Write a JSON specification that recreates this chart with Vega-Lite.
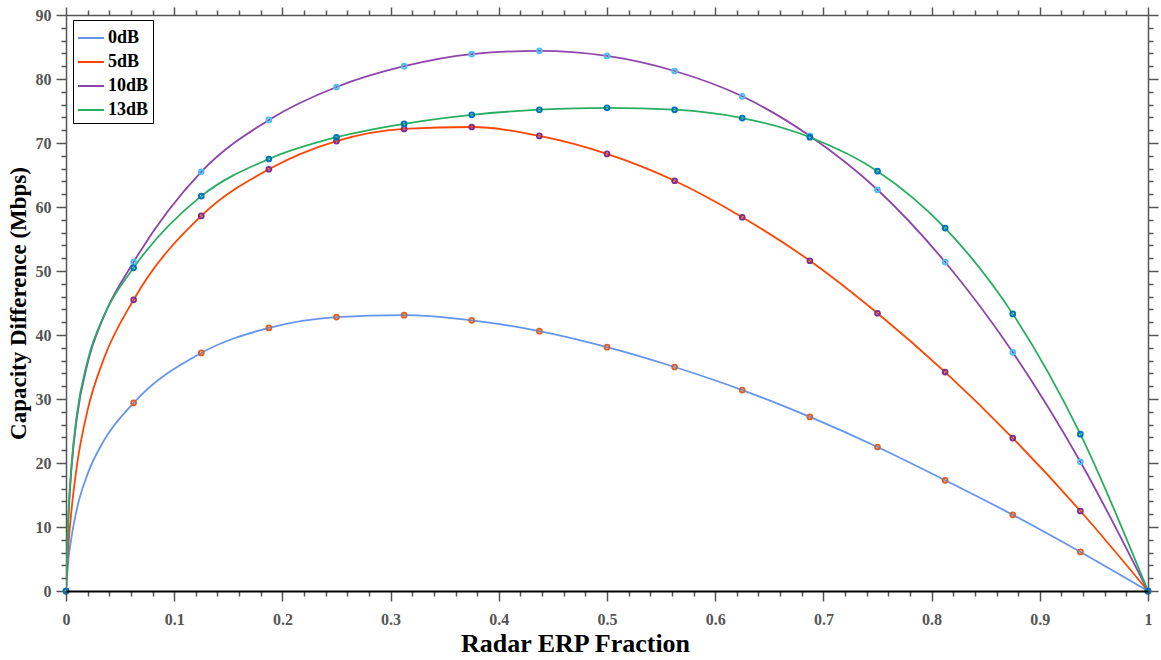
{
  "$schema": "https://vega.github.io/schema/vega-lite/v6.json",
  "width": 1082,
  "height": 576,
  "autosize": {"type": "none"},
  "padding": {"left": 66, "top": 15, "right": 13, "bottom": 69},
  "background": "white",
  "config": {"view": {"stroke": null}, "font": "Liberation Serif"},
  "datasets": {
    "curve": [
      {"f": 0, "c": 0, "s": "0dB"},
      {"f": 0.002, "c": 4.5, "s": "0dB"},
      {"f": 0.005, "c": 8.3, "s": "0dB"},
      {"f": 0.01, "c": 12.8, "s": "0dB"},
      {"f": 0.02, "c": 18.3, "s": "0dB"},
      {"f": 0.035, "c": 23.5, "s": "0dB"},
      {"f": 0.0625, "c": 29.4, "s": "0dB"},
      {"f": 0.125, "c": 37.2, "s": "0dB"},
      {"f": 0.1875, "c": 41.1, "s": "0dB"},
      {"f": 0.25, "c": 42.8, "s": "0dB"},
      {"f": 0.3125, "c": 43.1, "s": "0dB"},
      {"f": 0.375, "c": 42.3, "s": "0dB"},
      {"f": 0.4375, "c": 40.6, "s": "0dB"},
      {"f": 0.5, "c": 38.1, "s": "0dB"},
      {"f": 0.5625, "c": 35.0, "s": "0dB"},
      {"f": 0.625, "c": 31.4, "s": "0dB"},
      {"f": 0.6875, "c": 27.2, "s": "0dB"},
      {"f": 0.75, "c": 22.5, "s": "0dB"},
      {"f": 0.8125, "c": 17.3, "s": "0dB"},
      {"f": 0.875, "c": 11.9, "s": "0dB"},
      {"f": 0.9375, "c": 6.1, "s": "0dB"},
      {"f": 1, "c": 0, "s": "0dB"},
      {"f": 0, "c": 0, "s": "5dB"},
      {"f": 0.002, "c": 6.5, "s": "5dB"},
      {"f": 0.005, "c": 12.5, "s": "5dB"},
      {"f": 0.01, "c": 19.5, "s": "5dB"},
      {"f": 0.02, "c": 28.3, "s": "5dB"},
      {"f": 0.035, "c": 36.3, "s": "5dB"},
      {"f": 0.0625, "c": 45.5, "s": "5dB"},
      {"f": 0.125, "c": 58.6, "s": "5dB"},
      {"f": 0.1875, "c": 65.9, "s": "5dB"},
      {"f": 0.25, "c": 70.3, "s": "5dB"},
      {"f": 0.3125, "c": 72.2, "s": "5dB"},
      {"f": 0.375, "c": 72.5, "s": "5dB"},
      {"f": 0.4375, "c": 71.1, "s": "5dB"},
      {"f": 0.5, "c": 68.3, "s": "5dB"},
      {"f": 0.5625, "c": 64.1, "s": "5dB"},
      {"f": 0.625, "c": 58.4, "s": "5dB"},
      {"f": 0.6875, "c": 51.6, "s": "5dB"},
      {"f": 0.75, "c": 43.4, "s": "5dB"},
      {"f": 0.8125, "c": 34.2, "s": "5dB"},
      {"f": 0.875, "c": 23.9, "s": "5dB"},
      {"f": 0.9375, "c": 12.5, "s": "5dB"},
      {"f": 1, "c": 0, "s": "5dB"},
      {"f": 0, "c": 0, "s": "10dB"},
      {"f": 0.002, "c": 10.5, "s": "10dB"},
      {"f": 0.005, "c": 19.0, "s": "10dB"},
      {"f": 0.01, "c": 27.0, "s": "10dB"},
      {"f": 0.02, "c": 35.6, "s": "10dB"},
      {"f": 0.035, "c": 42.9, "s": "10dB"},
      {"f": 0.0625, "c": 51.4, "s": "10dB"},
      {"f": 0.125, "c": 65.5, "s": "10dB"},
      {"f": 0.1875, "c": 73.6, "s": "10dB"},
      {"f": 0.25, "c": 78.75, "s": "10dB"},
      {"f": 0.3125, "c": 82.0, "s": "10dB"},
      {"f": 0.375, "c": 83.9, "s": "10dB"},
      {"f": 0.4375, "c": 84.4, "s": "10dB"},
      {"f": 0.5, "c": 83.6, "s": "10dB"},
      {"f": 0.5625, "c": 81.25, "s": "10dB"},
      {"f": 0.625, "c": 77.3, "s": "10dB"},
      {"f": 0.6875, "c": 71.1, "s": "10dB"},
      {"f": 0.75, "c": 62.7, "s": "10dB"},
      {"f": 0.8125, "c": 51.4, "s": "10dB"},
      {"f": 0.875, "c": 37.3, "s": "10dB"},
      {"f": 0.9375, "c": 20.2, "s": "10dB"},
      {"f": 1, "c": 0, "s": "10dB"},
      {"f": 0, "c": 0, "s": "13dB"},
      {"f": 0.002, "c": 11.0, "s": "13dB"},
      {"f": 0.005, "c": 19.5, "s": "13dB"},
      {"f": 0.01, "c": 27.5, "s": "13dB"},
      {"f": 0.02, "c": 36.0, "s": "13dB"},
      {"f": 0.035, "c": 43.0, "s": "13dB"},
      {"f": 0.0625, "c": 50.5, "s": "13dB"},
      {"f": 0.125, "c": 61.7, "s": "13dB"},
      {"f": 0.1875, "c": 67.5, "s": "13dB"},
      {"f": 0.25, "c": 70.9, "s": "13dB"},
      {"f": 0.3125, "c": 73.0, "s": "13dB"},
      {"f": 0.375, "c": 74.4, "s": "13dB"},
      {"f": 0.4375, "c": 75.2, "s": "13dB"},
      {"f": 0.5, "c": 75.5, "s": "13dB"},
      {"f": 0.5625, "c": 75.2, "s": "13dB"},
      {"f": 0.625, "c": 73.9, "s": "13dB"},
      {"f": 0.6875, "c": 70.9, "s": "13dB"},
      {"f": 0.75, "c": 65.6, "s": "13dB"},
      {"f": 0.8125, "c": 56.7, "s": "13dB"},
      {"f": 0.875, "c": 43.3, "s": "13dB"},
      {"f": 0.9375, "c": 24.5, "s": "13dB"},
      {"f": 1, "c": 0, "s": "13dB"}
    ],
    "samples": [
      {"f": 0, "c": 0, "s": "0dB"},
      {"f": 0.0625, "c": 29.4, "s": "0dB"},
      {"f": 0.125, "c": 37.2, "s": "0dB"},
      {"f": 0.1875, "c": 41.1, "s": "0dB"},
      {"f": 0.25, "c": 42.8, "s": "0dB"},
      {"f": 0.3125, "c": 43.1, "s": "0dB"},
      {"f": 0.375, "c": 42.3, "s": "0dB"},
      {"f": 0.4375, "c": 40.6, "s": "0dB"},
      {"f": 0.5, "c": 38.1, "s": "0dB"},
      {"f": 0.5625, "c": 35.0, "s": "0dB"},
      {"f": 0.625, "c": 31.4, "s": "0dB"},
      {"f": 0.6875, "c": 27.2, "s": "0dB"},
      {"f": 0.75, "c": 22.5, "s": "0dB"},
      {"f": 0.8125, "c": 17.3, "s": "0dB"},
      {"f": 0.875, "c": 11.9, "s": "0dB"},
      {"f": 0.9375, "c": 6.1, "s": "0dB"},
      {"f": 1, "c": 0, "s": "0dB"},
      {"f": 0, "c": 0, "s": "5dB"},
      {"f": 0.0625, "c": 45.5, "s": "5dB"},
      {"f": 0.125, "c": 58.6, "s": "5dB"},
      {"f": 0.1875, "c": 65.9, "s": "5dB"},
      {"f": 0.25, "c": 70.3, "s": "5dB"},
      {"f": 0.3125, "c": 72.2, "s": "5dB"},
      {"f": 0.375, "c": 72.5, "s": "5dB"},
      {"f": 0.4375, "c": 71.1, "s": "5dB"},
      {"f": 0.5, "c": 68.3, "s": "5dB"},
      {"f": 0.5625, "c": 64.1, "s": "5dB"},
      {"f": 0.625, "c": 58.4, "s": "5dB"},
      {"f": 0.6875, "c": 51.6, "s": "5dB"},
      {"f": 0.75, "c": 43.4, "s": "5dB"},
      {"f": 0.8125, "c": 34.2, "s": "5dB"},
      {"f": 0.875, "c": 23.9, "s": "5dB"},
      {"f": 0.9375, "c": 12.5, "s": "5dB"},
      {"f": 1, "c": 0, "s": "5dB"},
      {"f": 0, "c": 0, "s": "10dB"},
      {"f": 0.0625, "c": 51.4, "s": "10dB"},
      {"f": 0.125, "c": 65.5, "s": "10dB"},
      {"f": 0.1875, "c": 73.6, "s": "10dB"},
      {"f": 0.25, "c": 78.75, "s": "10dB"},
      {"f": 0.3125, "c": 82.0, "s": "10dB"},
      {"f": 0.375, "c": 83.9, "s": "10dB"},
      {"f": 0.4375, "c": 84.4, "s": "10dB"},
      {"f": 0.5, "c": 83.6, "s": "10dB"},
      {"f": 0.5625, "c": 81.25, "s": "10dB"},
      {"f": 0.625, "c": 77.3, "s": "10dB"},
      {"f": 0.6875, "c": 71.1, "s": "10dB"},
      {"f": 0.75, "c": 62.7, "s": "10dB"},
      {"f": 0.8125, "c": 51.4, "s": "10dB"},
      {"f": 0.875, "c": 37.3, "s": "10dB"},
      {"f": 0.9375, "c": 20.2, "s": "10dB"},
      {"f": 1, "c": 0, "s": "10dB"},
      {"f": 0, "c": 0, "s": "13dB"},
      {"f": 0.0625, "c": 50.5, "s": "13dB"},
      {"f": 0.125, "c": 61.7, "s": "13dB"},
      {"f": 0.1875, "c": 67.5, "s": "13dB"},
      {"f": 0.25, "c": 70.9, "s": "13dB"},
      {"f": 0.3125, "c": 73.0, "s": "13dB"},
      {"f": 0.375, "c": 74.4, "s": "13dB"},
      {"f": 0.4375, "c": 75.2, "s": "13dB"},
      {"f": 0.5, "c": 75.5, "s": "13dB"},
      {"f": 0.5625, "c": 75.2, "s": "13dB"},
      {"f": 0.625, "c": 73.9, "s": "13dB"},
      {"f": 0.6875, "c": 70.9, "s": "13dB"},
      {"f": 0.75, "c": 65.6, "s": "13dB"},
      {"f": 0.8125, "c": 56.7, "s": "13dB"},
      {"f": 0.875, "c": 43.3, "s": "13dB"},
      {"f": 0.9375, "c": 24.5, "s": "13dB"},
      {"f": 1, "c": 0, "s": "13dB"}
    ]
  },
  "layer": [
    {
      "data": {"name": "curve"},
      "mark": {"type": "line", "interpolate": "monotone", "strokeWidth": 1.8, "clip": true},
      "encoding": {
        "x": {
          "field": "f", "type": "quantitative",
          "scale": {"domain": [0, 1], "nice": false, "zero": false},
          "axis": {
            "orient": "bottom",
            "values": [0,0.02,0.04,0.06,0.08,0.1,0.12,0.14,0.16,0.18,0.2,0.22,0.24,0.26,0.28,0.3,0.32,0.34,0.36,0.38,0.4,0.42,0.44,0.46,0.48,0.5,0.52,0.54,0.56,0.58,0.6,0.62,0.64,0.66,0.68,0.7,0.72,0.74,0.76,0.78,0.8,0.82,0.84,0.86,0.88,0.9,0.92,0.94,0.96,0.98,1],
            "format": "~g",
            "labelExpr": "abs(datum.value*10 - round(datum.value*10)) < 1e-6 ? datum.label : ''",
            "labelOverlap": false,
            "labelFlush": false,
            "tickSize": {"condition": {"test": "abs(datum.value*10 - round(datum.value*10)) < 1e-6", "value": 10}, "value": 5},
            "tickColor": "#555555",
            "tickWidth": 1.5,
            "domainColor": "#000000",
            "domainWidth": 2.2,
            "labelFont": "Liberation Serif",
            "labelFontWeight": "bold",
            "labelFontSize": 16,
            "labelColor": "#555555",
            "labelPadding": 10,
            "grid": false,
            "title": "Radar ERP Fraction",
            "titleFont": "Liberation Serif",
            "titleFontSize": 26,
            "titleFontWeight": "bold",
            "titleColor": "#000000",
            "titlePadding": 3,
            "titleX": 509,
            "zindex": 1
          }
        },
        "y": {
          "field": "c", "type": "quantitative",
          "scale": {"domain": [0, 90], "nice": false},
          "axis": {
            "orient": "left",
            "values": [0,2,4,6,8,10,12,14,16,18,20,22,24,26,28,30,32,34,36,38,40,42,44,46,48,50,52,54,56,58,60,62,64,66,68,70,72,74,76,78,80,82,84,86,88,90],
            "labelExpr": "datum.value % 10 === 0 ? datum.label : ''",
            "labelOverlap": false,
            "labelFlush": false,
            "tickSize": {"condition": {"test": "datum.value % 10 === 0", "value": 10}, "value": 5},
            "tickColor": "#555555",
            "tickWidth": 1.5,
            "domainColor": "#555555",
            "domainWidth": 1.5,
            "labelFont": "Liberation Serif",
            "labelFontWeight": "bold",
            "labelFontSize": 16,
            "labelColor": "#555555",
            "labelPadding": 5,
            "grid": false,
            "title": "Capacity Difference (Mbps)",
            "titleFont": "Liberation Serif",
            "titleFontSize": 23,
            "titleFontWeight": "bold",
            "titleColor": "#000000",
            "titlePadding": 5,
            "zindex": 0
          }
        },
        "color": {
          "field": "s", "type": "nominal",
          "scale": {"domain": ["0dB", "5dB", "10dB", "13dB"], "range": ["#6495ED", "#FF4500", "#8E44AD", "#27AE60"]},
          "legend": {
            "title": null,
            "orient": "none",
            "legendX": 7,
            "legendY": 5,
            "direction": "vertical",
            "symbolType": "stroke",
            "symbolSize": 676,
            "symbolStrokeWidth": 2,
            "labelFont": "Liberation Serif",
            "labelFontWeight": "bold",
            "labelFontSize": 18,
            "labelColor": "#000000",
            "labelOffset": 3,
            "rowPadding": 1,
            "padding": 4,
            "strokeColor": "#000000",
            "fillColor": "#ffffff",
            "cornerRadius": 0,
            "zindex": 2
          }
        }
      }
    },
    {
      "data": {"name": "samples"},
      "mark": {"type": "point", "filled": false, "size": 22, "strokeWidth": 2, "opacity": 1},
      "encoding": {
        "x": {
          "field": "f", "type": "quantitative",
          "axis": {
            "orient": "top",
            "values": [0,0.02,0.04,0.06,0.08,0.1,0.12,0.14,0.16,0.18,0.2,0.22,0.24,0.26,0.28,0.3,0.32,0.34,0.36,0.38,0.4,0.42,0.44,0.46,0.48,0.5,0.52,0.54,0.56,0.58,0.6,0.62,0.64,0.66,0.68,0.7,0.72,0.74,0.76,0.78,0.8,0.82,0.84,0.86,0.88,0.9,0.92,0.94,0.96,0.98,1],
            "labels": false,
            "title": null,
            "tickSize": {"condition": {"test": "abs(datum.value*10 - round(datum.value*10)) < 1e-6", "value": 8}, "value": 5},
            "tickColor": "#555555",
            "tickWidth": 1.5,
            "domainColor": "#555555",
            "domainWidth": 1.5,
            "grid": false
          }
        },
        "y": {
          "field": "c", "type": "quantitative",
          "axis": {
            "orient": "right",
            "values": [0,2,4,6,8,10,12,14,16,18,20,22,24,26,28,30,32,34,36,38,40,42,44,46,48,50,52,54,56,58,60,62,64,66,68,70,72,74,76,78,80,82,84,86,88,90],
            "labels": false,
            "title": null,
            "tickSize": {"condition": {"test": "datum.value % 10 === 0", "value": 10}, "value": 5},
            "tickColor": "#555555",
            "tickWidth": 1.5,
            "domainColor": "#555555",
            "domainWidth": 1.5,
            "grid": false
          }
        },
        "stroke": {
          "field": "s", "type": "nominal",
          "scale": {"domain": ["0dB", "5dB", "10dB", "13dB"], "range": ["#D9622B", "#7E2F8E", "#4DBEEE", "#0072BD"]},
          "legend": null
        }
      }
    }
  ],
  "resolve": {"axis": {"x": "independent", "y": "independent"}}
}
